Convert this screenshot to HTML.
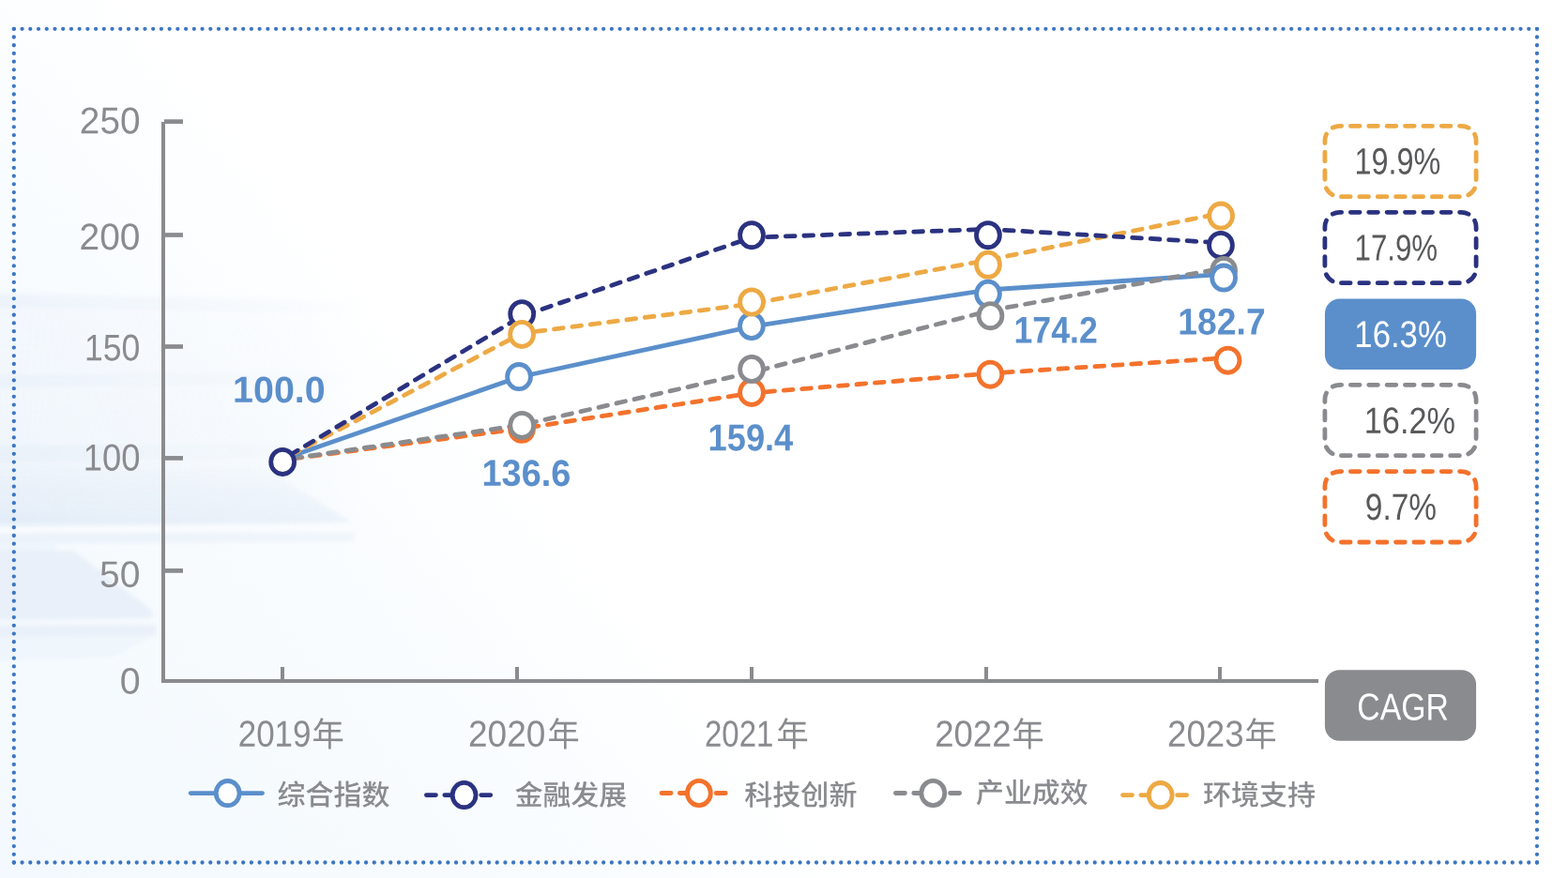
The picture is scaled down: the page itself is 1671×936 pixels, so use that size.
<!DOCTYPE html>
<html lang="zh-CN">
<head>
<meta charset="utf-8">
<title>指数走势与CAGR</title>
<style>
html,body{margin:0;padding:0;background:#fff}
body{width:1671px;height:936px;overflow:hidden}
svg{display:block;width:1671px;height:936px}
</style>
</head>
<body>
<svg width="1671" height="936" viewBox="0 0 1671 936" role="img" aria-label="指数走势折线图">
<defs>
<linearGradient id="bgA" gradientUnits="userSpaceOnUse" x1="730" y1="715" x2="190" y2="1160">
<stop offset="0" stop-color="#ffffff"/><stop offset="0.12" stop-color="#fcfeff"/><stop offset="0.45" stop-color="#f7fbfe"/><stop offset="1" stop-color="#f3f9fe"/>
</linearGradient>
<linearGradient id="fadeX" gradientUnits="userSpaceOnUse" x1="0" y1="0" x2="400" y2="0">
<stop offset="0" stop-color="#fff"/><stop offset="0.4" stop-color="#fff" stop-opacity="0.62"/><stop offset="0.8" stop-color="#fff" stop-opacity="0.3"/><stop offset="0.97" stop-color="#fff" stop-opacity="0"/>
</linearGradient>
<linearGradient id="fadeW" gradientUnits="userSpaceOnUse" x1="0" y1="0" x2="400" y2="0">
<stop offset="0" stop-color="#fff"/><stop offset="0.9" stop-color="#fff" stop-opacity="0.8"/><stop offset="1" stop-color="#fff" stop-opacity="0.6"/>
</linearGradient>
<linearGradient id="gradW" gradientUnits="userSpaceOnUse" x1="0" y1="496" x2="0" y2="560">
<stop offset="0" stop-color="#dbe7f5" stop-opacity="0.05"/><stop offset="0.5" stop-color="#dbe7f5" stop-opacity="0.3"/><stop offset="1" stop-color="#d9e5f4" stop-opacity="0.5"/>
</linearGradient>
<linearGradient id="gradU" gradientUnits="userSpaceOnUse" x1="0" y1="300" x2="0" y2="560">
<stop offset="0" stop-color="#e6edf8" stop-opacity="0"/><stop offset="0.1" stop-color="#e6edf8" stop-opacity="0.2"/><stop offset="0.6" stop-color="#e3ebf7" stop-opacity="0.28"/><stop offset="1" stop-color="#e0e9f6" stop-opacity="0.36"/>
</linearGradient>
<mask id="mU" maskUnits="userSpaceOnUse" x="-50" y="250" width="500" height="500"><rect x="-50" y="250" width="500" height="500" fill="url(#fadeX)"/></mask>
<mask id="mW" maskUnits="userSpaceOnUse" x="-50" y="250" width="500" height="500"><rect x="-50" y="250" width="500" height="500" fill="url(#fadeW)"/></mask>
<filter id="b5" filterUnits="userSpaceOnUse" x="-60" y="250" width="520" height="500"><feGaussianBlur stdDeviation="5"/></filter>
<filter id="b2" filterUnits="userSpaceOnUse" x="-60" y="250" width="520" height="500"><feGaussianBlur stdDeviation="2.2"/></filter>
</defs>
<rect width="1671" height="936" fill="#ffffff"/>
<rect width="1671" height="936" fill="url(#bgA)"/>
<g mask="url(#mU)">
<g filter="url(#b5)">
<path d="M-40 308 L400 320 L400 560 L-40 560 Z" fill="url(#gradU)"/>
</g>
<g filter="url(#b2)" fill="#dfe8f5">
<path d="M-40 312 L395 322 L395 334 L-40 328 Z" opacity="0.3"/>
<path d="M-40 400 L395 396 L395 408 L-40 414 Z" opacity="0.32"/>
<path d="M-40 476 L395 472 L395 486 L-40 494 Z" opacity="0.36"/>
</g>
</g>
<g mask="url(#mW)">
<g filter="url(#b2)">
<path d="M-40 496 L280 498 L375 557 L-40 560 Z" fill="url(#gradW)"/>
<path d="M-40 568 L378 568 L378 577 L-40 580 Z" fill="#e1ecf8" opacity="0.5"/>
<path d="M-20 566 L385 562" stroke="#fbfcfe" fill="none" stroke-width="5" opacity="0.9"/>
</g>
</g>
<g filter="url(#b2)">
<path d="M-40 586 L78 587 L162 651 L162 659 L-40 661 Z" fill="#dfe7f4" opacity="0.55"/>
<path d="M-40 667 L166 666 L166 677 L-40 680 Z" fill="#e1e9f5" opacity="0.58"/>
<path d="M-40 680 L166 677 L120 700 L-40 706 Z" fill="#e6f0fa" opacity="0.4"/>
<path d="M-40 580 L60 580 L60 586 L-40 586 Z" fill="#dde9f7" opacity="0.3"/>
</g>
<g fill="none" stroke="#3d76c3" stroke-width="4.3" stroke-linecap="round"><path d="M14.84 30.8H1637.97M14.84 919.5H1637.97" stroke-dasharray="0 8.7265"/><path d="M14.84 30.8V919.5M1637.97 30.8V919.5" stroke-dasharray="0 8.7127"/></g>
<g fill="#8a8b8f"><rect x="172" y="129.9" width="4" height="598.1"/><rect x="172" y="724" width="1233" height="4"/><rect x="175" y="127.25" width="20" height="4.7"/><rect x="175" y="248.15" width="20" height="4.7"/><rect x="175" y="367.15" width="20" height="4.7"/><rect x="175" y="486.05" width="20" height="4.7"/><rect x="175" y="606.05" width="20" height="4.7"/><rect x="299" y="711" width="4" height="14"/><rect x="549" y="711" width="4" height="14"/><rect x="799" y="711" width="4" height="14"/><rect x="1049" y="711" width="4" height="14"/><rect x="1298" y="711" width="4" height="14"/></g>
<text fill="#8a8b8f" font-weight="400" font-family='"Liberation Sans", sans-serif' transform="rotate(0.06 117.4 128.55)"><tspan x="84.85" y="142.3" font-size="39.86" textLength="64.67" lengthAdjust="spacingAndGlyphs">250</tspan></text>
<text fill="#8a8b8f" font-weight="400" font-family='"Liberation Sans", sans-serif' transform="rotate(0.06 117.25 252.4)"><tspan x="84.54" y="266.1" font-size="39.72" textLength="64.98" lengthAdjust="spacingAndGlyphs">200</tspan></text>
<text fill="#8a8b8f" font-weight="400" font-family='"Liberation Sans", sans-serif' transform="rotate(0.06 120.35 370.55)"><tspan x="89.98" y="384.2" font-size="39.58" textLength="59.41" lengthAdjust="spacingAndGlyphs">150</tspan></text>
<text fill="#8a8b8f" font-weight="400" font-family='"Liberation Sans", sans-serif' transform="rotate(0.06 119.75 487.75)"><tspan x="88.73" y="501.6" font-size="40.14" textLength="60.7" lengthAdjust="spacingAndGlyphs">100</tspan></text>
<text fill="#8a8b8f" font-weight="400" font-family='"Liberation Sans", sans-serif' transform="rotate(0.06 127.85 612.1)"><tspan x="106.08" y="625.71" font-size="39.44" textLength="43.45" lengthAdjust="spacingAndGlyphs">50</tspan></text>
<text fill="#8a8b8f" font-weight="400" font-family='"Liberation Sans", sans-serif' transform="rotate(0.06 138.6 726.05)"><tspan x="127.66" y="739.61" font-size="39.3" textLength="21.88" lengthAdjust="spacingAndGlyphs">0</tspan></text>
<text fill="#8a8b8f" font-weight="400" font-family='"Liberation Sans", "Noto Sans CJK SC", sans-serif' transform="rotate(0.06 310.35 781.8)"><tspan x="253.74" y="795.71" font-size="39.3" textLength="77.81" lengthAdjust="spacingAndGlyphs">2019</tspan><tspan x="332.45" y="795.45" font-size="35.77" textLength="34.33" lengthAdjust="spacingAndGlyphs">年</tspan></text>
<text fill="#8a8b8f" font-weight="400" font-family='"Liberation Sans", "Noto Sans CJK SC", sans-serif' transform="rotate(0.06 558.5 781.8)"><tspan x="499.04" y="795.71" font-size="39.3" textLength="82.3" lengthAdjust="spacingAndGlyphs">2020</tspan><tspan x="583.46" y="795.45" font-size="35.77" textLength="34.22" lengthAdjust="spacingAndGlyphs">年</tspan></text>
<text fill="#8a8b8f" font-weight="400" font-family='"Liberation Sans", "Noto Sans CJK SC", sans-serif' transform="rotate(0.06 806.4 781.8)"><tspan x="751.04" y="795.71" font-size="39.3" textLength="73.36" lengthAdjust="spacingAndGlyphs">2021</tspan><tspan x="827.46" y="795.45" font-size="35.77" textLength="34.22" lengthAdjust="spacingAndGlyphs">年</tspan></text>
<text fill="#8a8b8f" font-weight="400" font-family='"Liberation Sans", "Noto Sans CJK SC", sans-serif' transform="rotate(0.06 1054.55 781.8)"><tspan x="996.16" y="795.71" font-size="39.3" textLength="81.38" lengthAdjust="spacingAndGlyphs">2022</tspan><tspan x="1078.46" y="795.45" font-size="35.77" textLength="34.22" lengthAdjust="spacingAndGlyphs">年</tspan></text>
<text fill="#8a8b8f" font-weight="400" font-family='"Liberation Sans", "Noto Sans CJK SC", sans-serif' transform="rotate(0.06 1302.45 781.8)"><tspan x="1244.05" y="795.71" font-size="39.3" textLength="81.56" lengthAdjust="spacingAndGlyphs">2023</tspan><tspan x="1326.46" y="795.45" font-size="35.77" textLength="34.11" lengthAdjust="spacingAndGlyphs">年</tspan></text>
<g fill="none" stroke-width="4.8" stroke-linecap="round" stroke-linejoin="round"><g stroke="#f3722c" stroke-dasharray="9.75 9.75"><path d="M301.1 490.4L556 456.8" stroke-dashoffset="8.3"/><path d="M556 456.8L801 419" stroke-dashoffset="11.22"/><path d="M801 419L1055.3 398" stroke-dashoffset="4.67"/><path d="M1055.3 398L1308.5 381.4" stroke-dashoffset="5.23"/></g><g stroke="#8a8b8f" stroke-dasharray="9.75 9.75"><path d="M301.1 490.2L556.2 453" stroke-dashoffset="9.4"/></g><path d="M301.1 489.4L553.1 402L800.9 348.2L1053 309L1304.1 292.4" stroke="#5b8fcb"/><g stroke="#8a8b8f" stroke-dasharray="9.75 9.75"><path d="M556.2 453L801 397" stroke-dashoffset="13.6"/><path d="M801 397L1055.4 331" stroke-dashoffset="11.59"/><path d="M1055.4 331L1304.1 285.9" stroke-dashoffset="1.17"/></g><g stroke="#eda944" stroke-dasharray="9.75 9.75"><path d="M301.1 489.8L556.1 355.3" stroke-dashoffset="9.52"/><path d="M556.1 355.3L801 323.9" stroke-dashoffset="4.29"/><path d="M801 323.9L1053 277.1" stroke-dashoffset="16.06"/><path d="M1053 277.1L1301.1 227.4" stroke-dashoffset="17.91"/></g><g stroke="#2b3280" stroke-dasharray="9.75 9.75"><path d="M301.1 489.8L556.2 336.9" stroke-dashoffset="10.66"/><path d="M556.2 336.9L801 253.2" stroke-dashoffset="15.94"/><path d="M801 253.2L1053 244.3" stroke-dashoffset="2.63"/><path d="M1053 244.3L1301 258.8" stroke-dashoffset="2.02"/></g></g>
<g fill="#fff" stroke-width="4.8"><ellipse cx="556" cy="457.3" rx="12.45" ry="13.1" stroke="#f3722c"/><ellipse cx="801" cy="418.4" rx="12.45" ry="13.1" stroke="#f3722c"/><ellipse cx="1055.35" cy="399.14" rx="12.45" ry="13.1" stroke="#f3722c"/><ellipse cx="1308.5" cy="384.14" rx="12.45" ry="13.1" stroke="#f3722c"/><ellipse cx="556.2" cy="334.75" rx="12.45" ry="13.1" stroke="#2b3280"/><ellipse cx="801.04" cy="250.66" rx="12.45" ry="13.1" stroke="#2b3280"/><ellipse cx="1052.94" cy="250.65" rx="12.45" ry="13.1" stroke="#2b3280"/><ellipse cx="1300.97" cy="261.4" rx="12.45" ry="13.1" stroke="#2b3280"/><ellipse cx="1304.1" cy="288.45" rx="12.45" ry="13.1" stroke="#8a8b8f"/><ellipse cx="553.07" cy="401.6" rx="12.45" ry="13.1" stroke="#5b8fcb"/><ellipse cx="800.9" cy="347.5" rx="12.45" ry="13.1" stroke="#5b8fcb"/><ellipse cx="1053" cy="313.3" rx="12.45" ry="13.1" stroke="#5b8fcb"/><ellipse cx="1304.1" cy="296.1" rx="12.45" ry="13.1" stroke="#5b8fcb"/><ellipse cx="556.2" cy="453.4" rx="12.45" ry="13.1" stroke="#8a8b8f"/><ellipse cx="801.04" cy="393.5" rx="12.45" ry="13.1" stroke="#8a8b8f"/><ellipse cx="1055.46" cy="336.66" rx="12.45" ry="13.1" stroke="#8a8b8f"/><ellipse cx="556.1" cy="356.4" rx="12.45" ry="13.1" stroke="#eda944"/><ellipse cx="801.04" cy="322.03" rx="12.45" ry="13.1" stroke="#eda944"/><ellipse cx="1053" cy="282.3" rx="12.45" ry="13.1" stroke="#eda944"/><ellipse cx="1301.1" cy="230.09" rx="12.45" ry="13.1" stroke="#eda944"/><ellipse cx="301.15" cy="492.4" rx="12.45" ry="13.1" stroke="#2b3280"/></g>
<text fill="#5b8fcb" font-weight="700" font-family='"Liberation Sans", sans-serif' transform="rotate(0.06 297.85 415.3)"><tspan x="248.12" y="428.91" font-size="39.44" textLength="98.6" lengthAdjust="spacingAndGlyphs">100.0</tspan></text>
<text fill="#5b8fcb" font-weight="700" font-family='"Liberation Sans", sans-serif' transform="rotate(0.06 561.5 504.25)"><tspan x="513.51" y="517.9" font-size="39.58" textLength="94.97" lengthAdjust="spacingAndGlyphs">136.6</tspan></text>
<text fill="#5b8fcb" font-weight="700" font-family='"Liberation Sans", sans-serif' transform="rotate(0.06 801 466.4)"><tspan x="754.62" y="480.2" font-size="40" textLength="90.68" lengthAdjust="spacingAndGlyphs">159.4</tspan></text>
<text fill="#5b8fcb" font-weight="700" font-family='"Liberation Sans", sans-serif' transform="rotate(0.06 1125.55 351.6)"><tspan x="1080.55" y="365.5" font-size="39.86" textLength="89.18" lengthAdjust="spacingAndGlyphs">174.2</tspan></text>
<text fill="#5b8fcb" font-weight="700" font-family='"Liberation Sans", sans-serif' transform="rotate(0.06 1302.35 342.95)"><tspan x="1255.35" y="356.6" font-size="39.58" textLength="93.29" lengthAdjust="spacingAndGlyphs">182.7</tspan></text>
<path d="M1411.9 150A15.7 15.7 0 0 1 1427.6 134.3H1557.4A15.7 15.7 0 0 1 1573.1 150V194A15.7 15.7 0 0 1 1557.4 209.7H1427.6A15.7 15.7 0 0 1 1411.9 194Z" fill="#fff" stroke="#eda944" stroke-width="4.8" stroke-linecap="round" pathLength="23" stroke-dasharray="0.5 0.5" stroke-dashoffset="0.13"/>
<text fill="#58595b" font-weight="400" font-family='"Liberation Sans", sans-serif' transform="rotate(0.06 1490.1 171.95)"><tspan x="1443.53" y="185.6" font-size="39.58" textLength="91.83" lengthAdjust="spacingAndGlyphs">19.9%</tspan></text>
<path d="M1411.9 242A15.7 15.7 0 0 1 1427.6 226.3H1557.4A15.7 15.7 0 0 1 1573.1 242V286A15.7 15.7 0 0 1 1557.4 301.7H1427.6A15.7 15.7 0 0 1 1411.9 286Z" fill="#fff" stroke="#2b3280" stroke-width="4.8" stroke-linecap="round" pathLength="23" stroke-dasharray="0.5 0.5" stroke-dashoffset="0.13"/>
<text fill="#58595b" font-weight="400" font-family='"Liberation Sans", sans-serif' transform="rotate(0.06 1488.5 264.1)"><tspan x="1443.62" y="277.61" font-size="39.15" textLength="88.5" lengthAdjust="spacingAndGlyphs">17.9%</tspan></text>
<rect x="1411.9" y="318.55" width="161.2" height="75.4" rx="15.7" fill="#5b8fcb"/>
<text fill="#fff" font-weight="400" font-family='"Liberation Sans", sans-serif' transform="rotate(0.06 1493.3 356.25)"><tspan x="1443.35" y="370" font-size="39.86" textLength="98.5" lengthAdjust="spacingAndGlyphs">16.3%</tspan></text>
<path d="M1411.9 426A15.7 15.7 0 0 1 1427.6 410.3H1557.4A15.7 15.7 0 0 1 1573.1 426V470A15.7 15.7 0 0 1 1557.4 485.7H1427.6A15.7 15.7 0 0 1 1411.9 470Z" fill="#fff" stroke="#8a8b8f" stroke-width="4.8" stroke-linecap="round" pathLength="23" stroke-dasharray="0.5 0.5" stroke-dashoffset="0.13"/>
<text fill="#58595b" font-weight="400" font-family='"Liberation Sans", sans-serif' transform="rotate(0.06 1503.1 448.3)"><tspan x="1453.78" y="461.91" font-size="39.44" textLength="97.25" lengthAdjust="spacingAndGlyphs">16.2%</tspan></text>
<path d="M1411.9 518.3A15.7 15.7 0 0 1 1427.6 502.6H1557.4A15.7 15.7 0 0 1 1573.1 518.3V562.3A15.7 15.7 0 0 1 1557.4 578H1427.6A15.7 15.7 0 0 1 1411.9 562.3Z" fill="#fff" stroke="#f3722c" stroke-width="4.8" stroke-linecap="round" pathLength="23" stroke-dasharray="0.5 0.5" stroke-dashoffset="0.13"/>
<text fill="#58595b" font-weight="400" font-family='"Liberation Sans", sans-serif' transform="rotate(0.06 1493.1 540.35)"><tspan x="1454.83" y="554" font-size="39.58" textLength="76.17" lengthAdjust="spacingAndGlyphs">9.7%</tspan></text>
<rect x="1411.9" y="714.15" width="161.2" height="75.65" rx="15.7" fill="#8a8b8f"/>
<text fill="#fff" font-weight="400" font-family='"Liberation Sans", sans-serif' transform="rotate(0.06 1495.1 753.55)"><tspan x="1446.28" y="767.4" font-size="40.14" textLength="97.54" lengthAdjust="spacingAndGlyphs">CAGR</tspan></text>
<g stroke="#5b8fcb" stroke-width="4.8" stroke-linecap="round"><path d="M203.2 845.6H279.5" fill="none"/><ellipse cx="242.66" cy="845.6" rx="12.45" ry="13.1" fill="#fff"/></g>
<text fill="#8a8b8f" font-weight="500" font-family='"Liberation Sans", "Noto Sans CJK SC", sans-serif' transform="rotate(0.06 355.65 846.55)"><tspan x="295.62" y="858.11" font-size="30.27" textLength="119.86" lengthAdjust="spacingAndGlyphs">综合指数</tspan></text>
<g stroke="#2b3280" stroke-width="4.8" stroke-linecap="round"><path d="M454.4 847.55H522.8" fill="none" stroke-dasharray="10.05 9.4"/><ellipse cx="494.6" cy="847.55" rx="12.45" ry="13.1" fill="#fff"/></g>
<text fill="#8a8b8f" font-weight="500" font-family='"Liberation Sans", "Noto Sans CJK SC", sans-serif' transform="rotate(0.06 608.25 846.7)"><tspan x="548.77" y="858.17" font-size="29.9" textLength="119.29" lengthAdjust="spacingAndGlyphs">金融发展</tspan></text>
<g stroke="#f3722c" stroke-width="4.8" stroke-linecap="round"><path d="M705 845.5H773.2" fill="none" stroke-dasharray="10.05 9.33"/><ellipse cx="744.9" cy="845.5" rx="12.45" ry="13.1" fill="#fff"/></g>
<text fill="#8a8b8f" font-weight="500" font-family='"Liberation Sans", "Noto Sans CJK SC", sans-serif' transform="rotate(0.06 853.2 846.7)"><tspan x="793.32" y="858.22" font-size="30.13" textLength="120.12" lengthAdjust="spacingAndGlyphs">科技创新</tspan></text>
<g stroke="#8a8b8f" stroke-width="4.8" stroke-linecap="round"><path d="M954.4 845.5H1022.6" fill="none" stroke-dasharray="10.05 9.33"/><ellipse cx="994.3" cy="845.5" rx="12.45" ry="13.1" fill="#fff"/></g>
<text fill="#8a8b8f" font-weight="500" font-family='"Liberation Sans", "Noto Sans CJK SC", sans-serif' transform="rotate(0.06 1099.85 844.55)"><tspan x="1040.07" y="855.76" font-size="29.77" textLength="119.52" lengthAdjust="spacingAndGlyphs">产业成效</tspan></text>
<g stroke="#eda944" stroke-width="4.8" stroke-linecap="round"><path d="M1196.5 847.6H1264.7" fill="none" stroke-dasharray="10.05 9.33"/><ellipse cx="1236.7" cy="847.6" rx="12.45" ry="13.1" fill="#fff"/></g>
<text fill="#8a8b8f" font-weight="500" font-family='"Liberation Sans", "Noto Sans CJK SC", sans-serif' transform="rotate(0.06 1342 846.7)"><tspan x="1281.94" y="858.14" font-size="29.98" textLength="120.22" lengthAdjust="spacingAndGlyphs">环境支持</tspan></text>
</svg>
</body>
</html>
